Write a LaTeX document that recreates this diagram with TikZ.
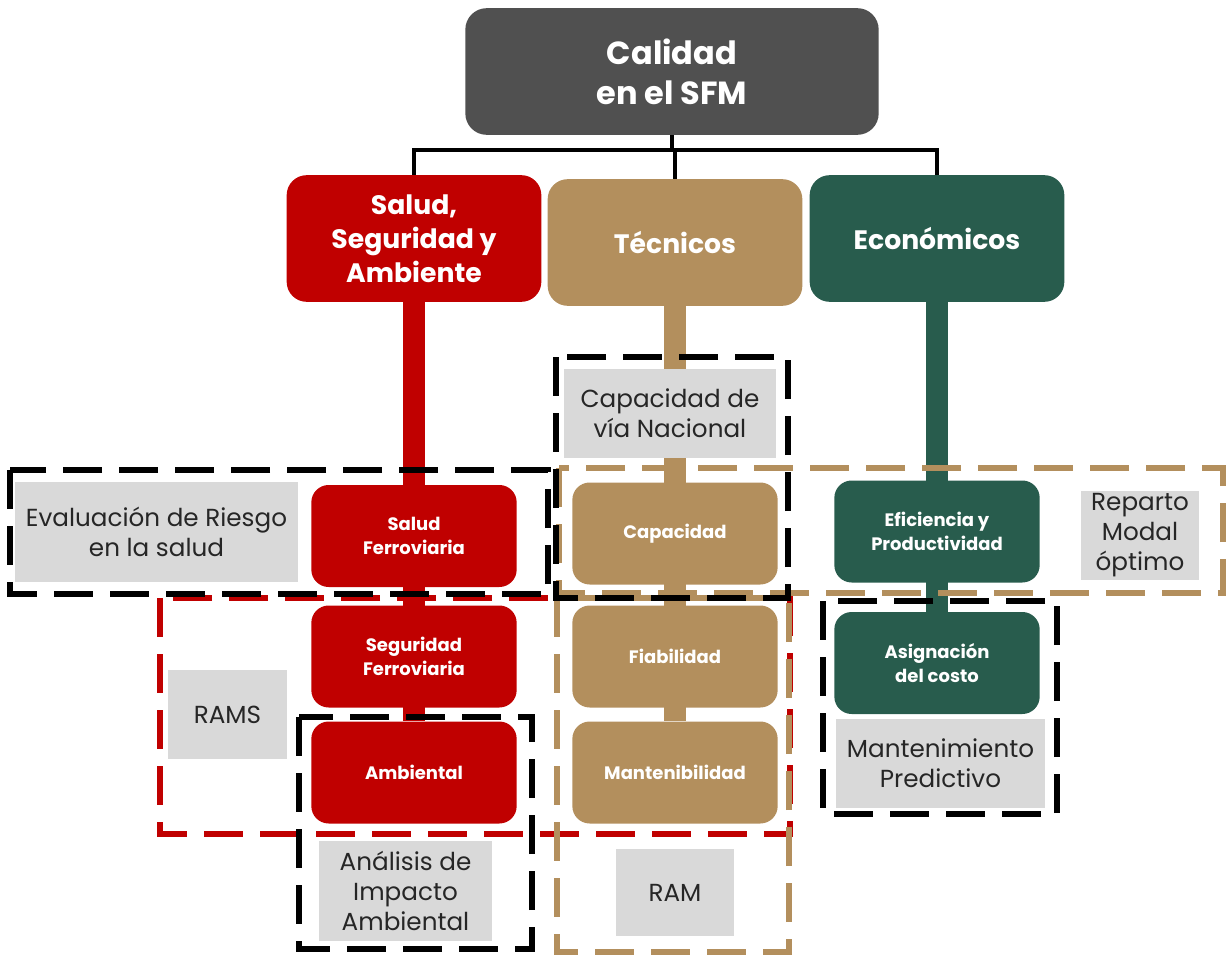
\documentclass[tikz,border=0pt]{standalone}
\usepackage{fontspec}
\setmainfont{Poppins}
\usetikzlibrary{backgrounds}
\definecolor{topgray}{HTML}{505050}
\definecolor{salred}{HTML}{C00000}
\definecolor{tectan}{HTML}{B38F5D}
\definecolor{ecogreen}{HTML}{285C4D}
\definecolor{notegray}{HTML}{D9D9D9}
\definecolor{notetext}{HTML}{262626}
\tikzset{
  cat/.style={rounded corners=15pt, text=white, align=center, inner sep=0pt,
    font=\bfseries\fontsize{20}{25.5}\selectfont, minimum width=191pt, minimum height=95pt},
  sub/.style={rounded corners=13pt, text=white, align=center, inner sep=0pt,
    font=\bfseries\fontsize{13.5}{18}\selectfont, minimum width=154pt, minimum height=76.5pt},
  note/.style={fill=notegray, text=notetext, align=center, inner sep=0pt,
    font=\fontsize{18.5}{22.5}\selectfont},
  stem/.style={line width=16.5pt},
  zone/.style={line width=4pt, dash pattern=on 29pt off 13pt},
}
\begin{document}
\begin{tikzpicture}[x=0.75pt,y=-0.75pt]
  \useasboundingbox (0,0) rectangle (1226,955);
  \pgfmathsetmacro\xa{414}   % column salud
  \pgfmathsetmacro\xb{675}   % column tecnicos
  \pgfmathsetmacro\xc{937}   % column economicos

% root and categories
  \node[fill=topgray, rounded corners=16pt, text=white, align=center, inner sep=0pt,
    font=\bfseries\fontsize{24}{30}\selectfont, minimum width=310pt, minimum height=95pt]
    (top) at (672,71.5) {Calidad\\en el SFM};
  \node[cat, fill=salred] (salud) at (\xa,238.5) {Salud,\\Seguridad y\\Ambiente};
  \node[cat, fill=tectan] (tec) at (\xb,242.5) {Técnicos};
  \node[cat, fill=ecogreen] (eco) at (\xc,238.5) {Económicos};

% tree lines
  \coordinate (fork) at (672,150);
  \draw[black,line width=2.5pt] (top.south) -- (fork);
  \draw[black,line width=2.5pt] (fork) -| (salud.north);
  \draw[black,line width=2.5pt] (fork) -| (tec.north);
  \draw[black,line width=2.5pt] (fork) -| (eco.north);

% salud column
  \node[sub, fill=salred] (saludf) at (\xa,536) {Salud\\Ferroviaria};
  \node[sub, fill=salred] (segf) at (\xa,656.5) {Seguridad\\Ferroviaria};
  \node[sub, fill=salred] (amb) at (\xa,772.5) {Ambiental};

% tecnicos column
  \node[sub, fill=tectan] (cap) at (\xb,533.5) {Capacidad};
  \node[sub, fill=tectan] (fia) at (\xb,656.5) {Fiabilidad};
  \node[sub, fill=tectan] (mant) at (\xb,772.5) {Mantenibilidad};

% economicos column
  \node[sub, fill=ecogreen] (efic) at (\xc,531.5) {Eficiencia y\\Productividad};
  \node[sub, fill=ecogreen] (asig) at (\xc,663) {Asignación\\del costo};

% grey notes
  \node[note, minimum width=159pt, minimum height=67pt] (vianac) at (670,413.5) {Capacidad de\\vía Nacional};
  \node[note, minimum width=212pt, minimum height=75pt] (evalr) at (156.5,532) {Evaluación de Riesgo\\en la salud};
  \node[note, minimum width=88.5pt, minimum height=67pt] (reparto) at (1140,535.5) {Reparto\\Modal\\óptimo};
  \node[note, minimum width=89pt, minimum height=67pt] (rams) at (227.5,714.5) {RAMS};
  \node[note, minimum width=157pt, minimum height=67pt] (mantpred) at (940.5,763.5) {Mantenimiento\\Predictivo};
  \node[note, minimum width=130pt, minimum height=75pt] (analisis) at (405.5,891) {Análisis de\\Impacto\\Ambiental};
  \node[note, minimum width=88.5pt, minimum height=65pt] (ram) at (675,892.5) {RAM};

% stems behind the boxes
  \begin{scope}[on background layer]
    \draw[stem, salred] (salud.south) -- (amb.north);
    \draw[stem, tectan] (tec.south) -- (mant.north);
    \draw[stem, ecogreen] (eco.south) -- (asig.north);
  \end{scope}

% dashed groups
  \draw[zone, salred] (160,598) rectangle (790,834);
  \draw[zone, tectan] (557,598) rectangle (789,952);
  \draw[zone, tectan] (559,468) rectangle (1223,593);
  \draw[zone, black] (10,470) rectangle (548,594);
  \draw[zone, black] (556,357) rectangle (788,598);
  \draw[zone, black] (299,717) rectangle (532,949);
  \draw[zone, black] (823,601) rectangle (1057,814);

\end{tikzpicture}
\end{document}
